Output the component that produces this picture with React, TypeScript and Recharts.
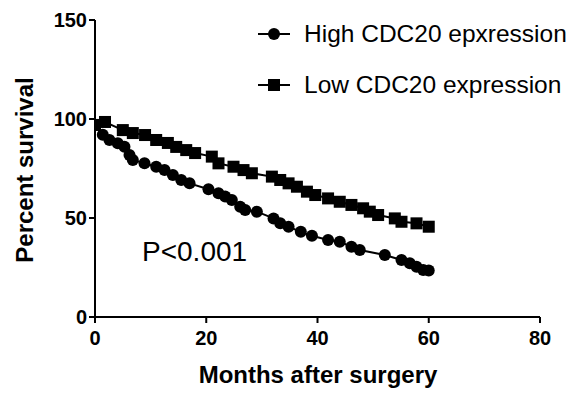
import { LineChart, Line, XAxis, YAxis } from "recharts";

const highMonths = [0, 1.4, 2.6, 4.1, 5.3, 6.2, 6.8, 8.9, 11, 12.5, 14, 15.5, 17, 20.4, 22.2, 23.4, 24.6, 26.1, 27, 29.1, 32.1, 33.3, 34.8, 37, 39, 41.9, 44, 46.1, 47.6, 52.1, 55.1, 56.6, 57.8, 59, 60];
const highSurvival = [97, 92, 89.4, 87.7, 86, 81.8, 79.3, 77.6, 75.9, 74.2, 71.7, 69.2, 67.5, 64.5, 62.5, 60.8, 59.1, 55.7, 54, 53.2, 49.8, 47.3, 45.6, 43, 41, 38.9, 38, 35.5, 33.8, 31.3, 28.8, 27.1, 25.4, 23.7, 23.5];

const lowMonths = [0, 1.8, 5, 6.8, 9, 11, 13.1, 14.6, 16.4, 18, 21, 22.2, 24.9, 26.7, 28.2, 31.8, 33.3, 34.8, 36.3, 38.1, 39.6, 41.9, 44, 46.1, 48.2, 49.4, 50.9, 53.9, 55.1, 57.8, 60];
const lowSurvival = [97, 98.5, 94.4, 92.9, 91.9, 89.4, 87.9, 85.9, 84.3, 82.8, 81, 77.6, 75.9, 74.2, 72.6, 70.9, 69.2, 67.5, 65.8, 63.3, 61.6, 59.9, 58.2, 56.6, 54.9, 53.2, 51.5, 49.8, 48.1, 47.3, 45.6];

const xTicks = [0, 20, 40, 60, 80];
const yTicks = [0, 50, 100, 150];

const highData = highMonths.map((x, i) => ({ x, y: highSurvival[i] }));
const lowData = lowMonths.map((x, i) => ({ x, y: lowSurvival[i] }));

const font = "Arial, 'Liberation Sans', sans-serif";

const CircleDot = (props: any) => {
  const { cx, cy } = props;
  if (cx == null || cy == null) return null;
  return <circle cx={cx} cy={cy} r={6} fill="#000" />;
};

const SquareDot = (props: any) => {
  const { cx, cy } = props;
  if (cx == null || cy == null) return null;
  return <rect x={cx - 6} y={cy - 6} width={12} height={12} fill="#000" />;
};

const legendItems = [
  { label: "High CDC20 epxression", shape: "circle" },
  { label: "Low CDC20 expression", shape: "square" },
];

// legend + p-value drawn on top of the chart so they don't shrink the plot area
const Overlay = () => (
  <svg width={577} height={400} style={{ position: "absolute", left: 0, top: 0, pointerEvents: "none" }}>
    {legendItems.map((item, i) => {
      const y = 34 + i * 51;
      return (
        <g key={item.label}>
          <line x1={258} x2={290} y1={y} y2={y} stroke="#000" strokeWidth={2} />
          {item.shape === "circle" ? (
            <circle cx={274} cy={y} r={6} fill="#000" />
          ) : (
            <rect x={268} y={y - 6} width={12} height={12} fill="#000" />
          )}
          <text x={304} y={y + 8} fontSize={24.5} fontFamily={font} fill="#000">
            {item.label}
          </text>
        </g>
      );
    })}
    <text x={142} y={261} fontSize={28} fontFamily={font} fill="#000">
      P&lt;0.001
    </text>
  </svg>
);

const tickStyle = { fontSize: 20, fontWeight: 700, fill: "#000", fontFamily: font };

export default function App() {
  return (
    <div style={{ position: "absolute", left: 0, top: 0, width: 577, height: 400, background: "#fff" }}>
      <LineChart width={577} height={400} margin={{ top: 20, right: 37, bottom: 0, left: 0 }}>
        <XAxis
          type="number"
          dataKey="x"
          domain={[0, 80]}
          ticks={xTicks}
          allowDataOverflow
          stroke="#000"
          strokeWidth={2}
          tickSize={6}
          tickMargin={8}
          tick={tickStyle}
          height={83}
          label={() => (
            <text x={318} y={383} textAnchor="middle" fontSize={24} fontWeight={700} fontFamily={font} fill="#000">
              Months after surgery
            </text>
          )}
        />
        <YAxis
          type="number"
          domain={[0, 150]}
          ticks={yTicks}
          stroke="#000"
          strokeWidth={2}
          tickSize={6}
          tick={tickStyle}
          width={95}
          label={() => (
            <text
              x={33}
              y={170}
              transform="rotate(-90 33 170)"
              textAnchor="middle"
              fontSize={24}
              fontWeight={700}
              fontFamily={font}
              fill="#000"
            >
              Percent survival
            </text>
          )}
        />
        <Line
          data={highData}
          dataKey="y"
          name="High CDC20 epxression"
          type="linear"
          stroke="#000"
          strokeWidth={2}
          dot={<CircleDot />}
          activeDot={false}
          isAnimationActive={false}
        />
        <Line
          data={lowData}
          dataKey="y"
          name="Low CDC20 expression"
          type="linear"
          stroke="#000"
          strokeWidth={2}
          dot={<SquareDot />}
          activeDot={false}
          isAnimationActive={false}
        />
      </LineChart>
      <Overlay />
    </div>
  );
}
